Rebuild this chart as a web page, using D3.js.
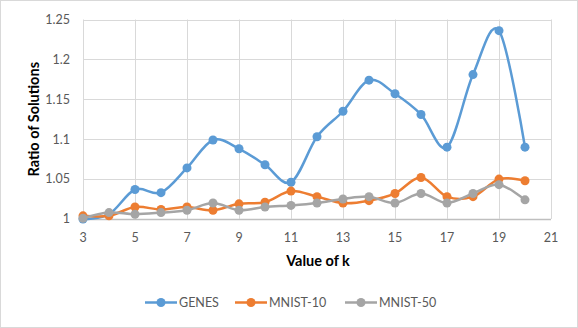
<!DOCTYPE html>
<html>
<head>
<meta charset="utf-8">
<script src="https://cdn.jsdelivr.net/npm/d3@7"></script>
<style>
  body { margin: 0; background: #fff; }
  text { font-family: Lato, "Open Sans", sans-serif; }
</style>
</head>
<body>
<svg id="chart" width="578" height="328"></svg>
<script>
const kValues = [3, 4, 5, 6, 7, 8, 9, 10, 11, 12, 13, 14, 15, 16, 17, 18, 19, 20]
const genes = [1.0, 1.006, 1.037, 1.033, 1.064, 1.099, 1.088, 1.068, 1.046, 1.103, 1.135, 1.174, 1.157, 1.131, 1.09, 1.181, 1.236, 1.09]
const mnist10 = [1.004, 1.004, 1.015, 1.012, 1.015, 1.011, 1.019, 1.021, 1.035, 1.028, 1.02, 1.023, 1.032, 1.052, 1.028, 1.028, 1.05, 1.048]
const mnist50 = [1.001, 1.008, 1.006, 1.008, 1.011, 1.02, 1.011, 1.015, 1.017, 1.02, 1.025, 1.028, 1.02, 1.032, 1.02, 1.032, 1.043, 1.024]
const xTicks = [3, 5, 7, 9, 11, 13, 15, 17, 19, 21]
const yTicks = [1, 1.05, 1.1, 1.15, 1.2, 1.25]

const series = [
    { name: 'GENES', values: genes, color: '#5b9bd5' },
    { name: 'MNIST-10', values: mnist10, color: '#ed7d31' },
    { name: 'MNIST-50', values: mnist50, color: '#a5a5a5' }
]

const svg = d3.select('#chart')
const plot = { left: 83, right: 551, top: 19.5, bottom: 219 }

// outer frame
svg.append('rect')
    .attr('x', 0.5).attr('y', 0.5)
    .attr('width', 577).attr('height', 327)
    .attr('fill', '#fff').attr('stroke', '#d9d9d9')

const x = d3.scaleLinear().domain([3, 21]).range([plot.left, plot.right])
const y = d3.scaleLinear().domain([1, 1.25]).range([plot.bottom, plot.top])

// gridlines
svg.append('g').selectAll('line').data(yTicks).join('line')
    .attr('x1', plot.left).attr('x2', plot.right)
    .attr('y1', d => Math.round(y(d)) + 0.5).attr('y2', d => Math.round(y(d)) + 0.5)
    .attr('stroke', d => d === 1 ? '#bfbfbf' : '#d9d9d9')
    .attr('stroke-width', d => d === 1 ? 1.5 : 1)

svg.append('g').selectAll('line').data(xTicks).join('line')
    .attr('x1', d => Math.round(x(d)) + 0.5).attr('x2', d => Math.round(x(d)) + 0.5)
    .attr('y1', plot.top).attr('y2', plot.bottom)
    .attr('stroke', '#d9d9d9')

// tick labels
svg.append('g').selectAll('text').data(yTicks).join('text')
    .attr('x', 70).attr('y', d => y(d))
    .attr('dy', '0.35em')
    .attr('text-anchor', 'end')
    .attr('font-size', 12.5).attr('fill', '#595959')
    .text(d => d3.format('')(d))

svg.append('g').selectAll('text').data(xTicks).join('text')
    .attr('x', d => x(d)).attr('y', 238)
    .attr('dy', '0.35em')
    .attr('text-anchor', 'middle')
    .attr('font-size', 12.5).attr('fill', '#595959')
    .text(d => d)

// axis titles
svg.append('text')
    .attr('transform', `translate(34, ${(plot.top + plot.bottom) / 2}) rotate(-90)`)
    .attr('text-anchor', 'middle').attr('dy', '0.35em')
    .attr('font-size', 14.5).attr('font-weight', 'bold').attr('fill', '#000')
    .text('Ratio of Solutions')

svg.append('text')
    .attr('x', 318).attr('y', 261).attr('dy', '0.35em')
    .attr('text-anchor', 'middle')
    .attr('font-size', 14.5).attr('font-weight', 'bold').attr('fill', '#000')
    .text('Value of k')

// series
const line = d3.line()
    .x((d, i) => x(kValues[i]))
    .y(d => y(d))
    .curve(d3.curveCatmullRom.alpha(0))

series.forEach(s => {
    const g = svg.append('g')
    g.append('path')
        .attr('d', line(s.values))
        .attr('fill', 'none')
        .attr('stroke', s.color)
        .attr('stroke-width', 2.5)
        .attr('stroke-linejoin', 'round')
    g.selectAll('circle').data(s.values).join('circle')
        .attr('cx', (d, i) => x(kValues[i]))
        .attr('cy', d => y(d))
        .attr('r', 4.5)
        .attr('fill', s.color)
})

// legend
const legendX = [145, 235, 345]
const legend = svg.append('g')
series.forEach((s, i) => {
    const lx = legendX[i]
    legend.append('line')
        .attr('x1', lx).attr('x2', lx + 32)
        .attr('y1', 302.5).attr('y2', 302.5)
        .attr('stroke', s.color).attr('stroke-width', 2.5)
    legend.append('circle')
        .attr('cx', lx + 16).attr('cy', 302.5).attr('r', 4.5)
        .attr('fill', s.color)
    legend.append('text')
        .attr('x', lx + 34).attr('y', 302.5).attr('dy', '0.35em')
        .attr('font-size', 12.5).attr('fill', '#595959')
        .text(s.name)
})
</script>
</body>
</html>
